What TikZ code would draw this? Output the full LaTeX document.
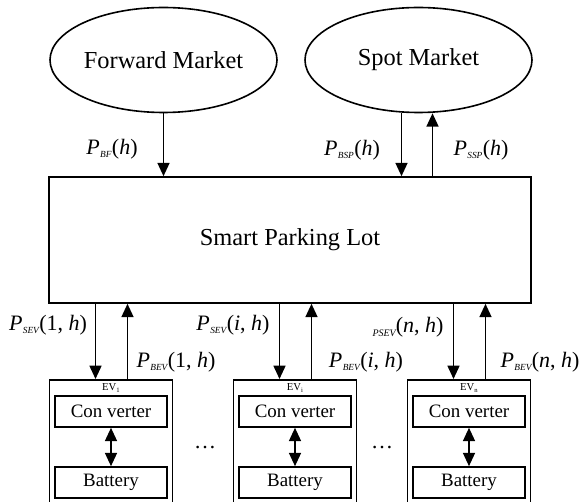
\documentclass[tikz,border=0pt]{standalone}
\usepackage{fontspec}
\setmainfont{Liberation Serif}
\usetikzlibrary{shapes.geometric,arrows.meta}
\newcommand{\Pw}[2]{\textit{P}\kern0.3pt\raisebox{-0.3ex}{\fontsize{7}{8}\selectfont\itshape #1}\kern0.3pt(#2)}
\begin{document}
\begin{tikzpicture}[x=0.75pt,y=-0.75pt,
  >={Triangle[length=10pt,width=9pt]},
  line width=1.2pt,
  mkt/.style={ellipse,draw,minimum width=170.25pt,minimum height=78.75pt,inner sep=0pt,font=\fontsize{18.3}{22}\selectfont},
  lot/.style={rectangle,draw,minimum width=361.5pt,minimum height=94.5pt,font=\fontsize{18.3}{22}\selectfont},
  evbox/.style={rectangle,draw,minimum width=92.25pt,minimum height=98.25pt,anchor=north},
  part/.style={rectangle,draw,minimum width=84pt,minimum height=23.25pt,inner sep=0pt,font=\fontsize{14.2}{16}\selectfont},
  lbl/.style={inner sep=0pt,font=\fontsize{16.5}{19}\selectfont},
  evlbl/.style={inner sep=0pt,font=\fontsize{8}{9}\selectfont},
  flow/.style={->}]
\useasboundingbox (0,0) rectangle (579,502);
\clip (0,0) rectangle (579,502);
% markets
\node[mkt] (fm) at (163.5,60) {Forward Market};
\node[mkt] (sm) at (418.5,60) {Spot Market};
% parking lot
\node[lot] (spl) at (290,240) {Smart Parking Lot};
% EVs
\foreach \n/\x/\s in {1/111/1,i/295/i,n/469/n}{
  \node[evbox] (ev\n) at (\x,379) {};
  \node[evlbl] (evl\n) at (\x,388) {EV\raisebox{-0.3ex}{\fontsize{5}{5}\selectfont \s}};
  \node[part] (conv\n) at (\x,411.5) {Con verter};
  \node[part] (bat\n) at (\x,482.5) {Battery};
  \draw[<->] (conv\n.south) -- (bat\n.north);
  \coordinate (dn\n) at ([xshift=-11.625pt]ev\n.north);
  \coordinate (up\n) at ([xshift=12.375pt]ev\n.north);
  \draw[flow] (dn\n |- spl.south) -- (dn\n);
  \draw[flow] (up\n) -- (up\n |- spl.south);
}
% market arrows
\draw[flow] (fm.south) -- (fm.south |- spl.north);
\coordinate (sdn) at ([xshift=-12.75pt]sm.south);
\coordinate (sup2) at ([xshift=10.5pt]sm.south);
\draw[flow] (sdn) -- (sdn |- spl.north);
\draw[flow] (sup2 |- spl.north) -- (sup2);
% labels
\node[lbl] (lbf) at (112,149) {\Pw{BF}{\textit{h}}};
\node[lbl] (lbsp) at (352,150) {\Pw{BSP}{\textit{h}}};
\node[lbl] (lssp) at (481,150) {\Pw{SSP}{\textit{h}}};
\node[lbl] (lsev1) at (48,325) {\Pw{SEV}{1, \textit{h}}};
\node[lbl] (lsevi) at (233,325) {\Pw{SEV}{\textit{i}, \textit{h}}};
\node[lbl] (lsevn) at (408,327) {\raisebox{-0.4ex}{\fontsize{7.5}{8}\selectfont\itshape PSEV}(\textit{n}, \textit{h})};
\node[lbl] (lbev1) at (176,362) {\Pw{BEV}{1, \textit{h}}};
\node[lbl] (lbevi) at (366,362) {\Pw{BEV}{\textit{i}, \textit{h}}};
\node[lbl] (lbevn) at (540,362) {\Pw{BEV}{\textit{n}, \textit{h}}};
% dots
\node[lbl] (dots1) at (205,448) {\dots};
\node[lbl] (dots2) at (382,448) {\dots};
\end{tikzpicture}
\end{document}
